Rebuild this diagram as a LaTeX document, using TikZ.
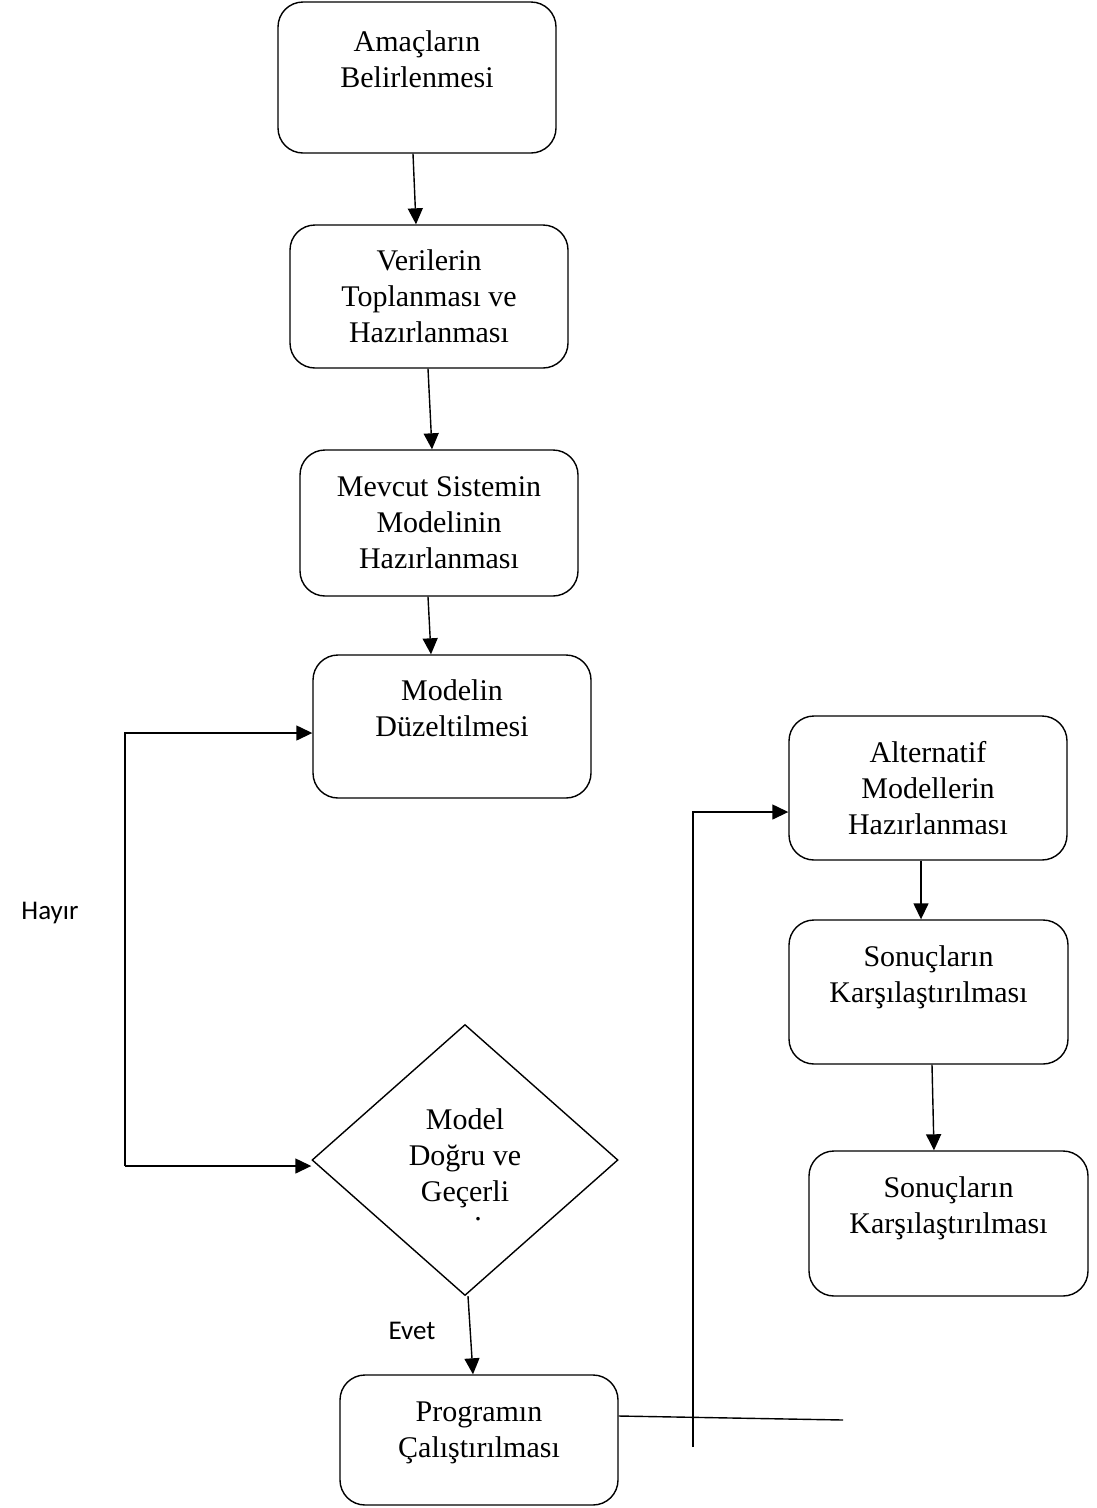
\documentclass[tikz,border=0pt]{standalone}
\usepackage{fontspec}
\setmainfont{Liberation Serif}
\newfontfamily\labelfont{Carlito}
\usetikzlibrary{shapes.geometric,positioning,arrows.meta}

\begin{document}
\begin{tikzpicture}[
      x=1pt,
      y=-1pt,
      line width=1.4pt,
      every text node part/.style={align=center},
      box/.style={
        rectangle,
        rounded corners=25pt,
        draw,
        minimum width=278pt,
        minimum height=144pt,
        inner sep=0pt,
        font=\fontsize{30}{36}\selectfont
      },
      decision/.style={
        diamond,
        draw,
        minimum width=306pt,
        minimum height=271pt,
        inner sep=0pt,
        aspect=1.13,
        font=\fontsize{30}{36}\selectfont
      },
      answer/.style={
        font=\labelfont\fontsize{27}{32}\selectfont
      },
      flow/.style={
        -{Triangle[length=16pt,width=15pt]}
      }
    ]
    \useasboundingbox (0,0) rectangle (1097,1508);

    \node[box, minimum height=151pt]
      (Goals) at (417,77.5)
      {Amaçların\\Belirlenmesi\\\mbox{}};

    \node[box, minimum height=143pt]
      (Data) at (429,296.5)
      {Verilerin\\Toplanması ve\\Hazırlanması};

    \node[box, minimum height=146pt]
      (Current) at (439,523)
      {Mevcut Sistemin\\Modelinin\\Hazırlanması};

    \node[box, minimum height=143pt]
      (Fix) at (452,726.5)
      {Modelin\\Düzeltilmesi\\\mbox{}};

    \node[decision]
      (Valid) at (465,1160)
      {\rule{0pt}{30pt}Model\\Doğru ve\\Geçerli\\[-17pt]\hspace*{26pt}.};

    \node[box, minimum height=130pt]
      (Run) at (479,1440)
      {Programın\\Çalıştırılması\\[-16pt]\mbox{}};

    \node[box]
      (Alternatives) at (928,788)
      {Alternatif\\Modellerin\\Hazırlanması};

    \node[box, minimum width=279pt]
      (Compare) at (928.5,992)
      {Sonuçların\\Karşılaştırılması\\\mbox{}};

    \node[box, minimum width=279pt, minimum height=145pt]
      (CompareTwo) at (948.5,1223.5)
      {Sonuçların\\Karşılaştırılması\\\mbox{}};

    \node[answer]
      (No) at (50,913)
      {Hayır};

    \node[answer]
      (Yes) at (412,1331)
      {Evet};

    \coordinate (LoopTop) at (125,733);
    \coordinate (LoopBottom) at (125,1166);
    \coordinate (RunEnd) at (843,1420);
    \coordinate (BranchBottom) at (693,1447);

    \draw[flow] ([xshift=-4pt]Goals.south) -- ([xshift=-13pt]Data.north);
    \draw[flow] ([xshift=-1pt]Data.south) -- ([xshift=-7pt]Current.north);
    \draw[flow] ([xshift=-11pt]Current.south) -- ([xshift=-21pt]Fix.north);
    \draw[flow] (LoopBottom) -- ([yshift=-6pt]Valid.west);
    \draw[flow] (LoopBottom) -- (LoopTop) -- ([yshift=-6.5pt]Fix.west);
    \draw[flow] ([xshift=3pt]Valid.south) -- ([xshift=-6pt]Run.north);
    \draw ([yshift=24pt]Run.east) -- (RunEnd);
    \draw[flow] (BranchBottom) |- ([yshift=-24pt]Alternatives.west);
    \draw[flow] ([xshift=-7pt]Alternatives.south) -- ([xshift=-7.5pt]Compare.north);
    \draw[flow] ([xshift=3.5pt]Compare.south) -- ([xshift=-14.5pt]CompareTwo.north);
  \end{tikzpicture}
\end{document}
